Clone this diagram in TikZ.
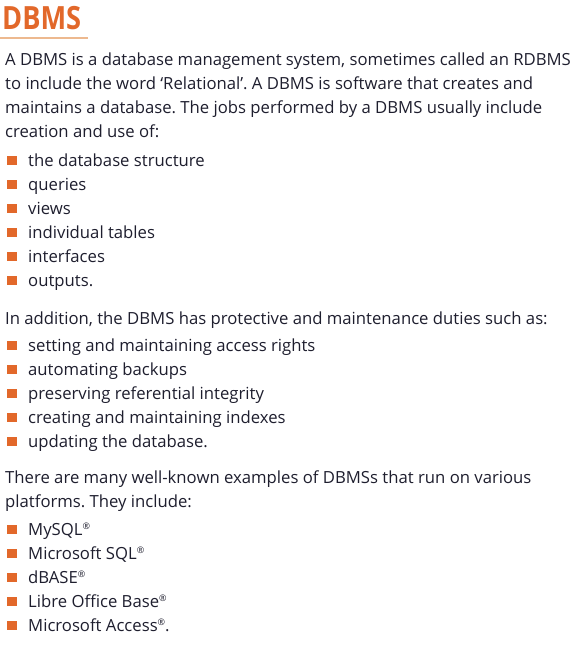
\documentclass[tikz,border=0pt]{standalone}
\usepackage{fontspec}
\setmainfont{Open Sans}
\frenchspacing
\definecolor{bodytext}{HTML}{1E1E2E}
\definecolor{accent}{HTML}{E2682A}
\definecolor{rule}{HTML}{EDB98F}
\newcommand{\regmark}{\raisebox{0.6ex}{\fontsize{9}{9}\selectfont ®}}
\begin{document}
\begin{tikzpicture}[x=1pt,y=-1pt,
  line/.style={anchor=base west,inner sep=0pt,text=bodytext,font=\fontsize{16.7}{19}\selectfont},
  bulletbox/.style={fill=accent,draw=none,minimum size=9.5pt,inner sep=0pt},
  title/.style={anchor=base west,inner sep=0pt,text=accent,xscale=0.85,font=\fontsize{32}{34}\selectfont\bfseries}]
\useasboundingbox (0,0) rectangle (577,645);
\node[title] (t) at (2,29) {DBMS};
\draw[rule,line width=1.5pt] (0,38) -- (88,38);
% paragraph 1
\node[line] (p1a) at (5,65) {A DBMS is a database management system, sometimes called an RDBMS};
\node[line] (p1b) at (5,89) {to include the word ‘Relational’. A DBMS is software that creates and};
\node[line] (p1c) at (5,113) {maintains a database. The jobs performed by a DBMS usually include};
\node[line] (p1d) at (5,137) {creation and use of:};
% list 1
\foreach \i/\y/\t in {1/166/the database structure,2/190/queries,3/214/views,4/238/individual tables,5/262/interfaces,6/286/outputs.}{
  \node[bulletbox] (ba\i) at (12,\y-5.5) {};
  \node[line] (la\i) at (28,\y) {\t};
}
\node[line] (p2) at (5,324) {In addition, the DBMS has protective and maintenance duties such as:};
\foreach \i/\y/\t in {1/351/setting and maintaining access rights,2/375/automating backups,3/399/preserving referential integrity,4/423/creating and maintaining indexes,5/447/updating the database.}{
  \node[bulletbox] (bb\i) at (12,\y-5.5) {};
  \node[line] (lb\i) at (28,\y) {\t};
}
\node[line] (p3a) at (5,483) {There are many well-known examples of DBMSs that run on various};
\node[line] (p3b) at (5,507) {platforms. They include:};
\node[bulletbox] (bc1) at (12,529.5) {};
\node[line] (lc1) at (28,535) {MySQL\regmark};
\node[bulletbox] (bc2) at (12,553.5) {};
\node[line] (lc2) at (28,559) {Microsoft SQL\regmark};
\node[bulletbox] (bc3) at (12,577.5) {};
\node[line] (lc3) at (28,583) {dBASE\regmark};
\node[bulletbox] (bc4) at (12,601.5) {};
\node[line] (lc4) at (28,607) {Libre Office Base\regmark};
\node[bulletbox] (bc5) at (12,625.5) {};
\node[line] (lc5) at (28,631) {Microsoft Access\regmark.};
\end{tikzpicture}
\end{document}
